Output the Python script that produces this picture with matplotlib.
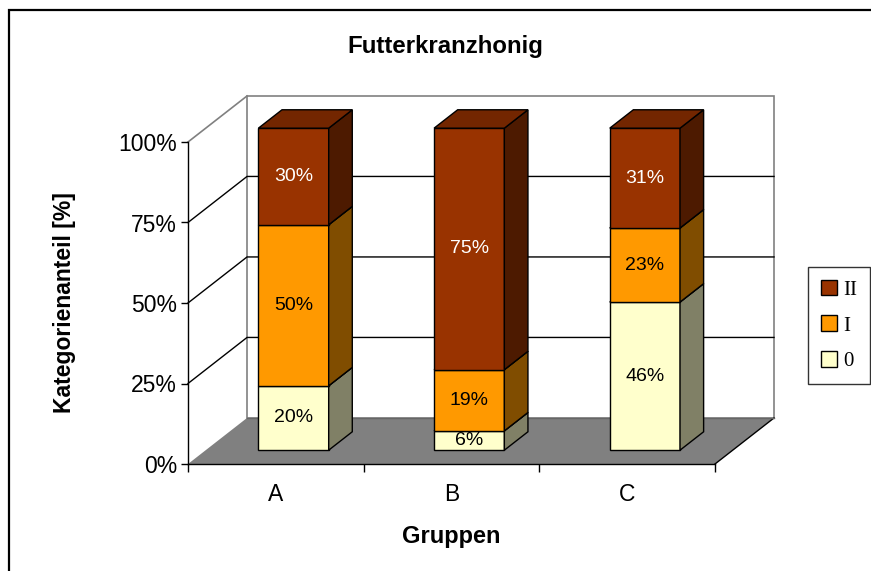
import numpy as np
import matplotlib.pyplot as plt
from matplotlib.patches import Polygon, Rectangle, Patch

# Daten
gruppen = ['A', 'B', 'C']
kategorien = ['0', 'I', 'II']
anteil_0 = [20, 6, 46]
anteil_I = [50, 19, 23]
anteil_II = [30, 75, 31]
y_ticks = [0, 25, 50, 75, 100]
y_labels = ['0%', '25%', '50%', '75%', '100%']

farben_front = ['#FFFFCC', '#FF9900', '#993300']
farben_seite = ['#808066', '#804D00', '#4D1A00']
farben_oben = ['#CCCCA3', '#CC7A00', '#732600']
text_farben = ['black', 'black', 'white']

plt.rcParams['font.family'] = ['Liberation Sans', 'DejaVu Sans']

W, H = 871, 571
fig = plt.figure(figsize=(W / 100, H / 100), dpi=100)
ax = fig.add_axes([188 / W, 1 - 464 / H, 527 / W, 322 / H])
ax.set_xlim(-0.5, 2.5)
ax.set_ylim(0, 100)
ax.patch.set_visible(False)

# Tiefe der 3D-Darstellung (Datenkoordinaten)
tx, ty = 0.336, 14.3
vorne, tiefe = 0.3, 0.4
breite = 0.4

x0, x1 = -0.5, 2.5
grau = '#808080'

# Rueckwand und Seitenwand
ax.add_patch(Polygon([(x0 + tx, ty), (x1 + tx, ty), (x1 + tx, 100 + ty), (x0 + tx, 100 + ty)],
                     closed=True, facecolor='white', edgecolor=grau, lw=1.2, clip_on=False, zorder=1))
ax.plot([x0, x0 + tx], [100, 100 + ty], color=grau, lw=1.2, clip_on=False, zorder=1.2)
for v in y_ticks[1:-1]:
    ax.plot([x0, x0 + tx, x1 + tx], [v, v + ty, v + ty], color='black', lw=1, clip_on=False, zorder=1.5)

# Boden
ax.add_patch(Polygon([(x0, 0), (x1, 0), (x1 + tx, ty), (x0 + tx, ty)],
                     closed=True, facecolor=grau, edgecolor='none', clip_on=False, zorder=2))
ax.plot([x1, x1 + tx], [0, ty], color='black', lw=1, clip_on=False, zorder=2.1)
ax.plot([x0 + tx, x1 + tx], [ty, ty], color='#666666', lw=1, clip_on=False, zorder=2.1)

# Saeulen
x_pos = np.arange(len(gruppen)) + vorne * tx
unten = np.zeros(len(gruppen)) + vorne * ty
dx, dy = tiefe * tx, tiefe * ty
for k, werte in enumerate([anteil_0, anteil_I, anteil_II]):
    rects = ax.bar(x_pos, werte, breite, bottom=unten, color=farben_front[k],
                   edgecolor='black', lw=1, clip_on=False, zorder=3)
    for r in rects:
        xa, ya = r.get_x(), r.get_y()
        xb, yb = xa + r.get_width(), ya + r.get_height()
        ax.add_patch(Polygon([(xb, ya), (xb + dx, ya + dy), (xb + dx, yb + dy), (xb, yb)],
                             closed=True, facecolor=farben_seite[k], edgecolor='black',
                             lw=1, clip_on=False, zorder=3))
        ax.add_patch(Polygon([(xa, yb), (xb, yb), (xb + dx, yb + dy), (xa + dx, yb + dy)],
                             closed=True, facecolor=farben_oben[k], edgecolor='black',
                             lw=1, clip_on=False, zorder=3))
    for i, w in enumerate(werte):
        ax.text(x_pos[i], unten[i] + w / 2, f'{w}%', ha='center', va='center',
                fontsize=14, color=text_farben[k], zorder=5)
    unten = unten + np.array(werte)

# Achsen
for s in ['top', 'right']:
    ax.spines[s].set_visible(False)
ax.spines['left'].set_linewidth(1)
ax.spines['bottom'].set_linewidth(1)
ax.set_yticks(y_ticks, labels=y_labels)
ax.tick_params(axis='y', direction='out', length=5, width=1, labelsize=16.5, pad=3)
ax.set_xticks([-0.5, 0.5, 1.5, 2.5], labels=['', '', '', ''])
ax.set_xticks([0, 1, 2], labels=gruppen, minor=True)
ax.tick_params(axis='x', which='major', direction='out', length=6, width=1)
ax.tick_params(axis='x', which='minor', length=0, labelsize=16.5, pad=14)

fig.text(445 / W, 1 - 46 / H, 'Futterkranzhonig', ha='center', va='center',
         fontsize=17.3, fontweight='bold')
fig.text(451 / W, 1 - 536 / H, 'Gruppen', ha='center', va='center',
         fontsize=17, fontweight='bold')
fig.text(65 / W, 1 - 303 / H, 'Kategorienanteil [%]', ha='center', va='center',
         rotation=90, fontsize=16.5, fontweight='bold')

# Legende
handles = [Patch(facecolor=farben_front[k], edgecolor='black', lw=1) for k in [2, 1, 0]]
leg = fig.legend(handles, [kategorien[k] for k in [2, 1, 0]], loc='upper left',
                 bbox_to_anchor=(808 / W, 1 - 267 / H), prop={'family': 'Liberation Serif', 'size': 15},
                 frameon=True, fancybox=False, edgecolor='black', handlelength=0.8, handleheight=0.8,
                 handletextpad=0.3, labelspacing=0.75, borderpad=0.6, borderaxespad=0)
leg.get_frame().set_linewidth(1)

# Rahmen
fig.add_artist(Rectangle((9 / W, -0.05), 1.1, 1 - 10 / H + 0.05, transform=fig.transFigure,
                         facecolor='none', edgecolor='black', lw=1.6))

fig.savefig('out.png', dpi=100)
